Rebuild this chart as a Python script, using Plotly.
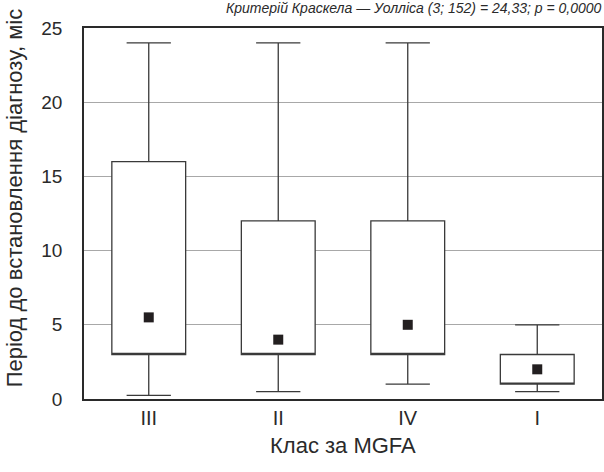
import plotly.graph_objects as go

categories = ["III", "II", "IV", "I"]
lower_whisker = [0.25, 0.5, 1.0, 0.5]
q1_values = [3, 3, 3, 1]
q3_values = [16, 12, 12, 3]
upper_whisker = [24, 24, 24, 5]
center_values = [5.5, 4, 5, 2]
y_ticks = [0, 5, 10, 15, 20, 25]

title_text = "Критерій Краскела — Уолліса (3; 152) = 24,33; p = 0,0000"
x_title = "Клас за MGFA"
y_title = "Період до встановлення діагнозу, міс"

INK = "#2a2a2a"
FONT = "Liberation Sans, Arial, sans-serif"

fig = go.Figure()
fig.add_trace(go.Box(
    x=categories,
    q1=q1_values,
    median=q1_values,
    q3=q3_values,
    lowerfence=lower_whisker,
    upperfence=upper_whisker,
    boxpoints=False,
    fillcolor="white",
    line=dict(color="#3a3a3a", width=1.3),
    width=0.57,
    whiskerwidth=0.6,
    showlegend=False,
    hoverinfo="skip",
))
fig.add_trace(go.Scatter(
    x=categories,
    y=center_values,
    mode="markers",
    marker=dict(symbol="square", size=10, color="#231f20"),
    showlegend=False,
))

fig.update_layout(
    width=604, height=472,
    margin=dict(l=84, r=0, t=28, b=73),
    paper_bgcolor="white",
    plot_bgcolor="white",
    font=dict(family=FONT, color=INK, size=18),
    xaxis=dict(
        type="category",
        range=[-0.5, 3.5],
        showgrid=False,
        showline=True, linecolor="#2a2a2a", linewidth=1.5,
        mirror=True,
        ticks="", tickfont=dict(size=20, color=INK),
        zeroline=False,
    ),
    yaxis=dict(
        range=[0, 25],
        tickvals=y_ticks,
        showgrid=True, gridcolor="#a8a8a8", gridwidth=1,
        showline=True, linecolor="#2a2a2a", linewidth=1.5,
        mirror=True,
        ticks="", tickfont=dict(size=19, color=INK),
        ticklabelstandoff=16,
        zeroline=False,
    ),
    annotations=[
        dict(text="<i>" + title_text + "</i>", xref="paper", yref="paper",
             x=0.638, y=1.0, yshift=20, xanchor="center", yanchor="middle",
             showarrow=False, font=dict(size=14, color=INK, family=FONT)),
        dict(text=x_title, xref="paper", yref="paper", x=0.5, y=0,
             yshift=-46, xanchor="center", yanchor="middle", showarrow=False,
             font=dict(size=22, color=INK, family=FONT)),
        dict(text=y_title, xref="paper", yref="paper", x=-0.135, y=0.541,
             xanchor="center", yanchor="middle", showarrow=False, textangle=-90,
             font=dict(size=22, color=INK, family=FONT)),
    ],
)

fig.write_html("out.html")
